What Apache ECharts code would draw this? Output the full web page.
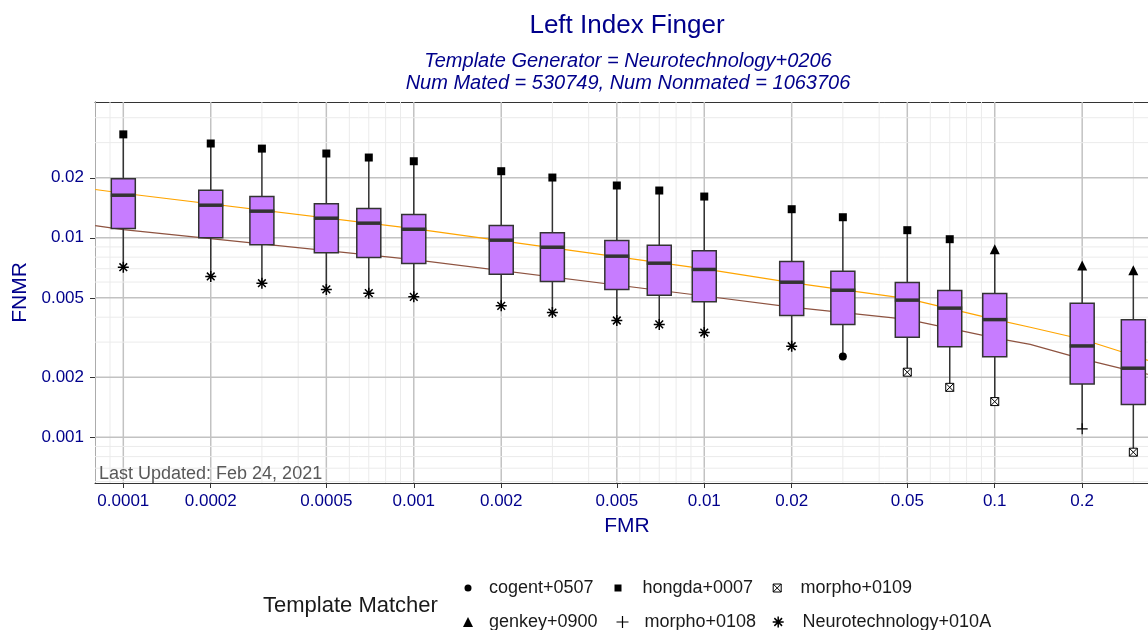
<!DOCTYPE html>
<html><head><meta charset="utf-8">
<script src="https://cdn.jsdelivr.net/npm/echarts@6/dist/echarts.min.js"></script>
<style>html,body{margin:0;padding:0;background:#fff}#c{width:1148px;height:630px}</style>
</head><body><div id="c"></div>
<script>
// ---------------- data ----------------
const fmrLevels = [0.0001,0.0002,0.0003,0.0005,0.0007,0.001,0.002,0.003,0.005,0.007,0.01,0.02,0.03,0.05,0.07,0.1,0.2,0.3];
const boxQ1     = [0.01113,0.0100,0.00922,0.00841,0.00797,0.00743,0.00657,0.00604,0.00551,0.00516,0.00478,0.00408,0.00368,0.00317,0.00284,0.00253,0.00185,0.00146];
const boxMedian = [0.01635,0.01457,0.0136,0.01254,0.01184,0.01104,0.00973,0.00897,0.00809,0.00746,0.00694,0.00599,0.00546,0.00487,0.00444,0.00389,0.00287,0.00222];
const boxQ3     = [0.01976,0.01732,0.0161,0.0148,0.01402,0.01309,0.01152,0.0106,0.00969,0.00918,0.00861,0.0076,0.0068,0.00597,0.00544,0.00526,0.0047,0.00388];

const cogent0507 = [[0.03,0.00254]];
const genkey0900 = [[0.1,0.00877],[0.2,0.00727],[0.3,0.00688]];
const hongda0007 = [[0.0001,0.0330],[0.0002,0.0297],[0.0003,0.0280],[0.0005,0.02646],[0.0007,0.02526],[0.001,0.0242],[0.002,0.02157],[0.003,0.02005],[0.005,0.01829],[0.007,0.01726],[0.01,0.0161],[0.02,0.01391],[0.03,0.01268],[0.05,0.01092],[0.07,0.00984]];
const morpho0108 = [[0.2,0.001103]];
const morpho0109 = [[0.05,0.00212],[0.07,0.00178],[0.1,0.00151],[0.3,0.000842]];
const neuro010A  = [[0.0001,0.00712],[0.0002,0.0064],[0.0003,0.00592],[0.0005,0.00551],[0.0007,0.00528],[0.001,0.00506],[0.002,0.00456],[0.003,0.00422],[0.005,0.00385],[0.007,0.00368],[0.01,0.00335],[0.02,0.00286]];

const curveOrange = [[0.00008,0.01746],[0.0001,0.01673],[0.001,0.01113],[0.01,0.00699],[0.02,0.00596],[0.05,0.00496],[0.1,0.0039],[0.1325,0.00356],[0.2,0.0031],[0.3,0.00257],[0.337,0.00243]];
const curveBrown  = [[0.00008,0.01152],[0.0001,0.0110],[0.001,0.00777],[0.01,0.00511],[0.02,0.00449],[0.05,0.0039],[0.1,0.00315],[0.1325,0.00292],[0.2,0.00247],[0.3,0.00214],[0.337,0.00207]];

const xTicks = [0.0001,0.0002,0.0005,0.001,0.002,0.005,0.01,0.02,0.05,0.1,0.2];
const yTicks = [0.001,0.002,0.005,0.01,0.02];

const legendTitle = 'Template Matcher';
const mainTitle = 'Left Index Finger';
const subTitle = 'Template Generator = Neurotechnology+0206\nNum Mated = 530749, Num Nonmated = 1063706';
const noteText = 'Last Updated: Feb 24, 2021';

// ---------------- setup ----------------
const X_MIN = 7.99e-5, X_MAX = 0.337, Y_MIN = 5.90e-4, Y_MAX = 0.04795;
const FONT = '"Liberation Sans", Arial, sans-serif';
const BLUE = '#00008B';

const matchers = [
  {name:'cogent+0507', pts:cogent0507, symbol:'circle', size:8, fill:'#000', stroke:'#000', lw:0, leg:{x:468,y:588,s:7,pad:12.5}},
  {name:'genkey+0900', pts:genkey0900, symbol:'triangle', size:10, fill:'#000', stroke:'#000', lw:0, leg:{x:468,y:622,s:10,pad:11}},
  {name:'hongda+0007', pts:hongda0007, symbol:'rect', size:8, fill:'#000', stroke:'#000', lw:0, leg:{x:618,y:588,s:7,pad:16}},
  {name:'morpho+0108', pts:morpho0108, symbol:'path://M5,0L5,10M0,5L10,5', size:11, fill:'none', stroke:'#000', lw:1.2, leg:{x:620,y:622,s:12,pad:11}},
  {name:'morpho+0109', pts:morpho0109, symbol:'path://M0,0L10,0L10,10L0,10ZM0,0L10,10M10,0L0,10', size:8, fill:'#fff', stroke:'#000', lw:1, leg:{x:776.7,y:588,s:8,pad:14.3}},
  {name:'Neurotechnology+010A', pts:neuro010A, symbol:'path://M5,0L5,10M0,5L10,5M1.5,1.5L8.5,8.5M8.5,1.5L1.5,8.5', size:11, fill:'none', stroke:'#000', lw:1.5, leg:{x:775.7,y:622,s:11,pad:13.8}}
];

const allPts = matchers.flatMap(m => m.pts);
const whiskers = fmrLevels.map(f => {
  const v = allPts.filter(p => p[0] === f).map(p => p[1]);
  return [f, Math.min(...v), Math.max(...v)];
});
const boxData = fmrLevels.map((f, i) => [f, boxQ1[i], boxQ1[i], boxMedian[i], boxQ3[i], boxQ3[i]]);
const medianData = fmrLevels.map((f, i) => [f, boxMedian[i]]);

// grid lines (major at labelled ticks, minor at other 1..9 multiples)
function gridVals(lo, hi, majors) {
  const minor = [];
  for (let k = -6; k <= 0; k++) for (let n = 1; n <= 9; n++) {
    const v = +(n * Math.pow(10, k)).toPrecision(6);
    if (v >= lo && v <= hi && !majors.some(m => Math.abs(m - v) / v < 1e-6)) minor.push(v);
  }
  return minor;
}
const vLines = [...gridVals(X_MIN, X_MAX, xTicks).map(v => [v, Y_MIN, Y_MAX, 0]), ...xTicks.map(v => [v, Y_MIN, Y_MAX, 1])];
const hLines = [...gridVals(Y_MIN, Y_MAX, yTicks).map(v => [X_MIN, X_MAX, v, 0]), ...yTicks.map(v => [X_MIN, X_MAX, v, 1])];
const MINOR = {stroke:'#EBEBEB', lineWidth:1};
const MAJOR = {stroke:'#C2C2C2', lineWidth:1.5};

const fmt = v => String(+(+v).toPrecision(4));

const chart = echarts.init(document.getElementById('c'), null, {renderer:'canvas'});

const legends = matchers.map(m => ({
  orient:'horizontal', left: m.leg.x - m.leg.s / 2, top: m.leg.y - 10, padding:0,
  itemWidth: m.leg.s, itemHeight: m.leg.s, selectedMode:false,
  textStyle:{fontSize:18, color:'#1a1a1a', fontFamily:FONT, padding:[0,0,0,m.leg.pad], lineHeight:20},
  data:[{name:m.name, icon:m.symbol, itemStyle:{color:m.fill, borderColor:m.stroke, borderWidth:m.lw}}]
}));

const AXLINE = {show:true, onZero:false, lineStyle:{color:'#333', width:1}};

const option = {
  animation:false,
  backgroundColor:'#fff',
  textStyle:{fontFamily:FONT},
  title:[
    {text:mainTitle, left:627, top:13, textAlign:'center', padding:0,
     textStyle:{fontSize:26, fontWeight:'normal', color:BLUE, fontFamily:FONT}},
    {text:subTitle, left:628, top:50, textAlign:'center', padding:0,
     textStyle:{fontSize:20, fontStyle:'italic', fontWeight:'normal', color:BLUE, fontFamily:FONT, lineHeight:22}},
    {text:legendTitle, left:263, top:595, padding:0,
     textStyle:{fontSize:22, fontWeight:'normal', color:'#1a1a1a', fontFamily:FONT}}
  ],
  legend: legends,
  grid:{left:95, top:102, right:0, height:381, show:false, containLabel:false},
  xAxis:[{type:'log', logBase:10, min:X_MIN, max:X_MAX, position:'bottom',
    name:'FMR', nameLocation:'middle', nameGap:33,
    nameTextStyle:{color:BLUE, fontSize:21, fontFamily:FONT, padding:[0,0,0,11]},
    axisLine:AXLINE,
    axisTick:{show:true, customValues:xTicks, length:5, lineStyle:{color:'#333', width:1}},
    axisLabel:{customValues:xTicks, formatter:fmt, color:BLUE, fontSize:17, margin:10, fontFamily:FONT},
    splitLine:{show:false}, minorSplitLine:{show:false}},
   {type:'log', logBase:10, min:X_MIN, max:X_MAX, position:'top',
    axisLine:AXLINE, axisTick:{show:false}, axisLabel:{show:false}, splitLine:{show:false}}],
  yAxis:{type:'log', logBase:10, min:Y_MIN, max:Y_MAX,
    name:'FNMR', nameLocation:'middle', nameGap:60,
    nameTextStyle:{color:BLUE, fontSize:21, fontFamily:FONT},
    axisLine:AXLINE,
    axisTick:{show:true, customValues:yTicks, length:5, lineStyle:{color:'#333', width:1}},
    axisLabel:{customValues:yTicks, formatter:fmt, color:BLUE, fontSize:17, margin:11, fontFamily:FONT},
    splitLine:{show:false}, minorSplitLine:{show:false}},
  graphic:[{type:'text', left:99, top:465, z:50, silent:true,
    style:{text:noteText, fill:'#595959', font:'18px "Liberation Sans", Arial, sans-serif'}}],
  series:[
    {type:'custom', name:'_vgrid', data:vLines, z:1, silent:true, encode:{x:0, y:[1,2]}, clip:true,
     renderItem:(params, api) => {
       const a = api.coord([api.value(0), api.value(1)]);
       const b = api.coord([api.value(0), api.value(2)]);
       return {type:'line', shape:{x1:a[0], y1:a[1], x2:b[0], y2:b[1]}, style: api.value(3) ? MAJOR : MINOR};
     }},
    {type:'custom', name:'_hgrid', data:hLines, z:1, silent:true, encode:{x:[0,1], y:2}, clip:true,
     renderItem:(params, api) => {
       const a = api.coord([api.value(0), api.value(2)]);
       const b = api.coord([api.value(1), api.value(2)]);
       return {type:'line', z2: api.value(3) ? 2 : 1, shape:{x1:a[0], y1:a[1], x2:b[0], y2:b[1]}, style: api.value(3) ? MAJOR : MINOR};
     }},
    {type:'line', name:'_curveOrange', data:curveOrange, z:2, silent:true, showSymbol:false, symbol:'none',
     lineStyle:{color:'#FFA500', width:1.2}},
    {type:'line', name:'_curveBrown', data:curveBrown, z:2, silent:true, showSymbol:false, symbol:'none',
     lineStyle:{color:'#8E5340', width:1.2}},
    {type:'custom', name:'_whiskers', data:whiskers, z:3, silent:true, encode:{x:0, y:[1,2]},
     renderItem:(params, api) => {
       const a = api.coord([api.value(0), api.value(1)]);
       const b = api.coord([api.value(0), api.value(2)]);
       return {type:'line', shape:{x1:a[0], y1:a[1], x2:b[0], y2:b[1]}, style:{stroke:'#333', lineWidth:1.5}};
     }},
    {type:'boxplot', name:'_boxes', data:boxData, z:4, silent:true, layout:'horizontal', boxWidth:[24,24],
     itemStyle:{color:'#C77CFF', borderColor:'#333', borderWidth:1.5}},
    {type:'custom', name:'_medians', data:medianData, z:5, silent:true, encode:{x:0, y:1},
     renderItem:(params, api) => {
       const p = api.coord([api.value(0), api.value(1)]);
       return {type:'rect', shape:{x:p[0]-12.5, y:p[1]-1.75, width:25, height:3.5}, style:{fill:'#333'}};
     }},
    ...matchers.map(m => ({
      type:'scatter', name:m.name, data:m.pts, z:6, silent:true,
      symbol:m.symbol, symbolSize:m.size,
      itemStyle:{color:m.fill, borderColor:m.stroke, borderWidth:m.lw, opacity:1}
    }))
  ]
};
chart.setOption(option);
</script></body></html>
